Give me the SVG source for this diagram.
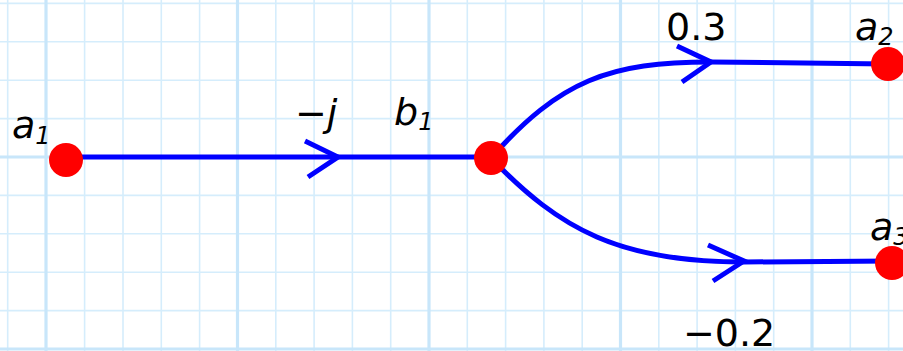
<svg xmlns="http://www.w3.org/2000/svg" width="903" height="351" viewBox="0 0 903 351">
<style>
.g{stroke:#d5edfc;stroke-width:1.6}
.gt{stroke:#c8e6fa;stroke-width:3.2}
.e{fill:none;stroke:#0000ff;stroke-width:5}
.ar{fill:none;stroke:#0000ff;stroke-width:5;stroke-linejoin:miter;stroke-linecap:butt}
.n{fill:#ff0000}
.t{font-family:"DejaVu Sans",sans-serif;fill:#000;font-size:38px}
.i{font-style:italic}
</style>
<rect width="903" height="351" fill="#fff"/>
<g id="grid">
<g class="g">
<line x1="7.7" y1="0" x2="7.7" y2="351"/><line x1="84.6" y1="0" x2="84.6" y2="351"/><line x1="123" y1="0" x2="123" y2="351"/><line x1="161.3" y1="0" x2="161.3" y2="351"/><line x1="199.6" y1="0" x2="199.6" y2="351"/>
<line x1="275.8" y1="0" x2="275.8" y2="351"/><line x1="314.1" y1="0" x2="314.1" y2="351"/><line x1="352.4" y1="0" x2="352.4" y2="351"/><line x1="390.7" y1="0" x2="390.7" y2="351"/>
<line x1="467.3" y1="0" x2="467.3" y2="351"/><line x1="505.6" y1="0" x2="505.6" y2="351"/><line x1="543.9" y1="0" x2="543.9" y2="351"/><line x1="582.2" y1="0" x2="582.2" y2="351"/>
<line x1="658.8" y1="0" x2="658.8" y2="351"/><line x1="697.1" y1="0" x2="697.1" y2="351"/><line x1="735.4" y1="0" x2="735.4" y2="351"/><line x1="773.7" y1="0" x2="773.7" y2="351"/>
<line x1="850.3" y1="0" x2="850.3" y2="351"/><line x1="888.6" y1="0" x2="888.6" y2="351"/>
<line x1="0" y1="3.4" x2="903" y2="3.4"/><line x1="0" y1="41.8" x2="903" y2="41.8"/><line x1="0" y1="80.2" x2="903" y2="80.2"/><line x1="0" y1="118.6" x2="903" y2="118.6"/>
<line x1="0" y1="195.4" x2="903" y2="195.4"/><line x1="0" y1="233.8" x2="903" y2="233.8"/><line x1="0" y1="272.2" x2="903" y2="272.2"/><line x1="0" y1="310.6" x2="903" y2="310.6"/>
</g>
<g class="gt">
<line x1="46" y1="0" x2="46" y2="351"/><line x1="237.5" y1="0" x2="237.5" y2="351"/><line x1="429" y1="0" x2="429" y2="351"/><line x1="620.5" y1="0" x2="620.5" y2="351"/><line x1="812" y1="0" x2="812" y2="351"/>
<line x1="0" y1="157" x2="903" y2="157"/><line x1="0" y1="349" x2="903" y2="349"/>
</g>
</g>
<g id="connectors">
<path class="e" d="M66,157 L491,157"/>
<polyline class="ar" points="305,141 338,157 308,177"/>
<path class="e" d="M491,158 C560,80 610,62 711,62 L888,64"/>
<polyline class="ar" points="677,46 711,62 682,82"/>
<path class="e" d="M491,158 C560,230 620,262 744,262 L892,261"/>
<polyline class="ar" points="708,245 744,261 713,281"/>
</g>
<g id="node-a1"><circle class="n" cx="66" cy="160" r="17"/><text class="t i" x="12" y="138">a<tspan font-size="24" dy="6">1</tspan></text></g>
<g id="node-b1"><circle class="n" cx="491" cy="158" r="17"/><text class="t i" x="394" y="125">b<tspan font-size="24" dy="5">1</tspan></text></g>
<g id="node-a2"><circle class="n" cx="888" cy="64" r="17"/><text class="t i" x="855" y="40">a<tspan font-size="24" dy="5">2</tspan></text></g>
<g id="node-a3"><circle class="n" cx="892" cy="263" r="17"/><text class="t i" x="870" y="240">a<tspan font-size="24" dy="5">3</tspan></text></g>
<g id="labels">
<text class="t i" x="295" y="126">−j</text>
<text class="t" x="666" y="40">0.3</text>
<text class="t" x="683" y="346">−0.2</text>
</g>
</svg>
